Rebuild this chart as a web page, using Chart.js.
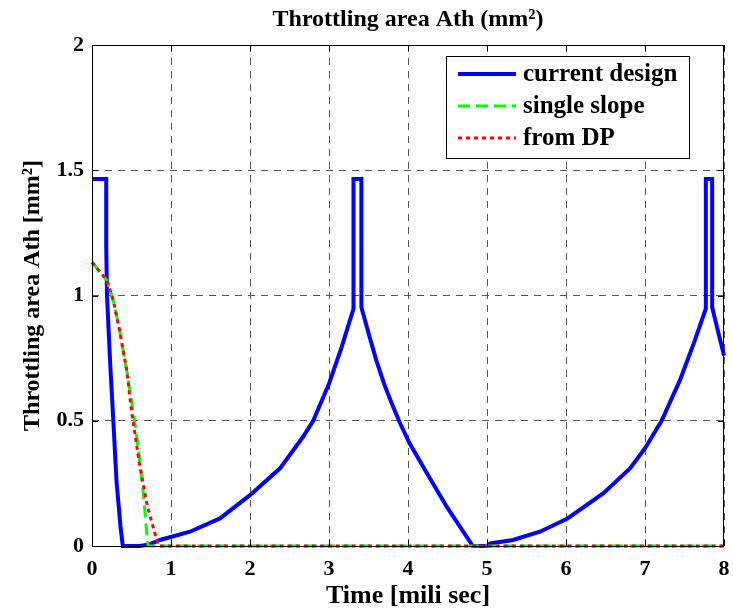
<!DOCTYPE html>
<html>
<head>
<meta charset="utf-8">
<script src="https://cdn.jsdelivr.net/npm/chart.js@4"></script>
<style>
  html, body { margin: 0; padding: 0; background: #fff; }
  #wrap { width: 733px; height: 613px; }
</style>
</head>
<body>
<div id="wrap"><canvas id="areaChart" width="733" height="613"></canvas></div>
<script>
// Values (time in ms, area in mm^2)
const currentX = [0, 0.18, 0.18, 0.19, 0.23, 0.27, 0.31, 0.36, 0.39, 0.61, 0.72, 0.86, 1.24, 1.62, 2.0, 2.38, 2.67, 2.8, 3.0, 3.16, 3.31, 3.31, 3.41, 3.41, 3.5, 3.6, 3.7, 3.8, 3.9, 4.02, 4.24, 4.49, 4.82, 5.0, 5.04, 5.33, 5.67, 6.02, 6.47, 6.81, 7.0, 7.21, 7.44, 7.63, 7.77, 7.77, 7.85, 7.85, 8.0];
const currentY = [1.465, 1.465, 1.2, 1.0, 0.73, 0.5, 0.26, 0.08, 0, 0, 0.006, 0.024, 0.057, 0.11, 0.203, 0.31, 0.435, 0.5, 0.648, 0.794, 0.947, 1.465, 1.465, 0.953, 0.85, 0.74, 0.645, 0.565, 0.49, 0.41, 0.29, 0.157, 0, 0, 0.01, 0.024, 0.057, 0.11, 0.21, 0.31, 0.39, 0.5, 0.66, 0.82, 0.947, 1.465, 1.465, 0.953, 0.76];

const singleX = [0, 0.19, 0.27, 0.35, 0.44, 0.52, 0.59, 0.65, 0.69, 0.71, 8];
const singleY = [1.133, 1.06, 0.98, 0.86, 0.70, 0.54, 0.38, 0.21, 0.064, 0, 0];

const dpX = [0, 0.19, 0.27, 0.35, 0.44, 0.50, 0.60, 0.70, 0.78, 0.84, 8];
const dpY = [1.133, 1.06, 0.98, 0.86, 0.70, 0.54, 0.33, 0.16, 0.07, 0, 0];

const xTicks = [0, 1, 2, 3, 4, 5, 6, 7, 8];
const yTicks = [0, 0.5, 1, 1.5, 2];
const xTickLabels = ["0", "1", "2", "3", "4", "5", "6", "7", "8"];
const yTickLabels = ["0", "0.5", "1", "1.5", "2"];

const seriesNames = ["current design", "single slope", "from DP"];
const chartTitle = "Throttling area Ath (mm²)";

const serif = "'Liberation Serif', 'Times New Roman', serif";

function toPoints(xs, ys) {
    return xs.map((x, i) => ({ x: x, y: ys[i] }));
}

const lineStyles = [
    { color: "#0000ff", width: 4, dash: [] },
    { color: "#00ff00", width: 3, dash: [12, 6] },
    { color: "#ff0000", width: 3, dash: [4, 4] }
];

// Title over the plot, frame, inward ticks and the boxed legend
const framePlugin = {
    id: "frame",
    afterDraw(chart) {
        const ctx = chart.ctx;
        const a = chart.chartArea;
        const xs = chart.scales.x;
        const ys = chart.scales.y;
        ctx.save();

        ctx.fillStyle = "#000";
        ctx.font = "bold 24px " + serif;
        ctx.textAlign = "center";
        ctx.textBaseline = "middle";
        ctx.fillText(chartTitle, (a.left + a.right) / 2, 20);

        ctx.strokeStyle = "#000";
        ctx.lineWidth = 1;
        ctx.setLineDash([]);
        ctx.strokeRect(a.left + 0.5, a.top + 0.5, a.right - a.left - 1, a.bottom - a.top);
        ctx.beginPath();
        xTicks.forEach(v => {
            const px = Math.round(xs.getPixelForValue(v)) + 0.5;
            ctx.moveTo(px, a.bottom); ctx.lineTo(px, a.bottom - 6);
            ctx.moveTo(px, a.top); ctx.lineTo(px, a.top + 6);
        });
        yTicks.forEach(v => {
            const py = Math.round(ys.getPixelForValue(v)) + 0.5;
            ctx.moveTo(a.left, py); ctx.lineTo(a.left + 6, py);
            ctx.moveTo(a.right, py); ctx.lineTo(a.right - 6, py);
        });
        ctx.stroke();

        // legend
        const bx = a.right - 278, by = a.top + 11, bw = 243, bh = 102;
        ctx.fillStyle = "#fff";
        ctx.fillRect(bx, by, bw, bh);
        ctx.strokeRect(bx + 0.5, by + 0.5, bw, bh);
        ctx.font = "bold 25px " + serif;
        ctx.textBaseline = "middle";
        ctx.textAlign = "left";
        seriesNames.forEach((name, i) => {
            const ry = by + 18 + i * 32;
            const st = lineStyles[i];
            ctx.beginPath();
            ctx.strokeStyle = st.color;
            ctx.lineWidth = st.width;
            ctx.setLineDash(st.dash);
            ctx.moveTo(bx + 12, ry);
            ctx.lineTo(bx + 70, ry);
            ctx.stroke();
            ctx.setLineDash([]);
            ctx.fillStyle = "#000";
            ctx.fillText(name, bx + 77, ry + 1);
        });
        ctx.restore();
    }
};

const chartCanvas = document.getElementById("areaChart");

new Chart(chartCanvas, {
    type: "line",
    data: {
        datasets: [
            { label: seriesNames[0], data: toPoints(currentX, currentY), order: 2 },
            { label: seriesNames[1], data: toPoints(singleX, singleY), order: 1 },
            { label: seriesNames[2], data: toPoints(dpX, dpY), order: 0 }
        ].map((ds, i) => Object.assign(ds, {
            borderColor: lineStyles[i].color,
            borderWidth: lineStyles[i].width,
            borderDash: lineStyles[i].dash,
            borderCapStyle: "butt",
            pointRadius: 0,
            tension: 0,
            fill: false,
            clip: 6
        }))
    },
    options: {
        responsive: false,
        animation: false,
        layout: { padding: { left: 0, right: 9, top: 45, bottom: 0 } },
        plugins: {
            legend: { display: false },
            tooltip: { enabled: false },
            title: { display: false }
        },
        scales: {
            x: {
                type: "linear",
                min: 0,
                max: 8,
                afterBuildTicks: axis => { axis.ticks = xTicks.map(v => ({ value: v })); },
                afterFit: axis => {
                    axis.height = 67;
                    axis.paddingLeft = 0;
                    axis.paddingRight = 0;
                },
                ticks: {
                    color: "#000",
                    font: { family: serif, size: 22, weight: "bold" },
                    padding: 10,
                    maxRotation: 0,
                    callback: (v, i) => xTickLabels[i]
                },
                grid: { color: "#555", lineWidth: 1, drawTicks: false },
                border: { display: false, dash: [7, 6] },
                title: {
                    display: true,
                    text: "Time [mili sec]",
                    color: "#000",
                    font: { family: serif, size: 26, weight: "bold" },
                    padding: { top: 0, bottom: 1 }
                }
            },
            y: {
                min: 0,
                max: 2,
                afterBuildTicks: axis => { axis.ticks = yTicks.map(v => ({ value: v })); },
                afterFit: axis => {
                    axis.width = 92;
                    axis.paddingTop = 0;
                    axis.paddingBottom = 0;
                },
                ticks: {
                    color: "#000",
                    font: { family: serif, size: 22, weight: "bold" },
                    padding: 8,
                    callback: (v, i) => yTickLabels[i]
                },
                grid: { color: "#555", lineWidth: 1, drawTicks: false },
                border: { display: false, dash: [7, 6] },
                title: {
                    display: true,
                    text: "Throttling area Ath [mm²]",
                    color: "#000",
                    font: { family: serif, size: 24, weight: "bold" },
                    padding: { top: 18, bottom: 0 }
                }
            }
        }
    },
    plugins: [framePlugin]
});
</script>
</body>
</html>
